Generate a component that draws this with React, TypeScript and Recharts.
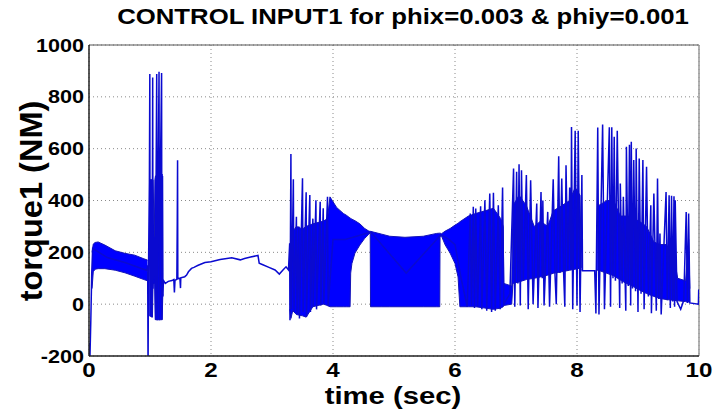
import React from "react";
import {
  Area,
  CartesianGrid,
  ComposedChart,
  Line,
  ReferenceLine,
  XAxis,
  YAxis,
} from "recharts";

const xTicks = [0, 2, 4, 6, 8, 10];
const yTicks = [-200, 0, 200, 400, 600, 800, 1000];

// torque1 trace [time, value]
const traceStart = [
  [0, -150], [0.012, -240], [0.03, -60], [0.045, 120], [0.06, 215],
  [0.3, 180], [0.6, 160], [0.95, 130], [0.962, 150], [0.968, -260], [0.975, 120],
];
const traceBurst1 = [
  [0.99, 470], [0.997, 888], [1.002, -45], [1.02, 480], [1.03, -50], [1.04, 470],
  [1.044, 875], [1.049, 60], [1.07, 260], [1.08, 90], [1.09, -60], [1.1, 490],
  [1.11, 888], [1.12, -62], [1.135, 495], [1.148, 897], [1.155, -62], [1.17, 500],
  [1.19, 892], [1.195, -60], [1.205, 495], [1.212, 30], [1.22, 92],
];
const traceRamp = [
  [1.25, 80], [1.3, 88], [1.36, 91], [1.39, 95], [1.4, 45], [1.41, 92], [1.44, 96],
  [1.447, 320], [1.452, 555], [1.456, 98], [1.49, 100], [1.5, 62], [1.505, 102],
  [1.57, 106], [1.6, 112], [1.63, 125], [1.68, 138], [1.72, 142], [1.79, 150],
  [1.9, 161], [2.0, 164], [2.15, 172], [2.34, 179], [2.48, 171], [2.55, 176],
  [2.65, 182], [2.77, 188], [2.79, 158], [2.85, 152], [2.95, 142], [3.05, 132],
  [3.12, 116], [3.18, 132], [3.23, 144], [3.27, 132],
];
const traceBurst2 = [
  [3.29, 235], [3.295, -62], [3.31, 579], [3.318, -20], [3.35, 482], [3.36, -30],
  [3.4, 337], [3.41, -40], [3.44, 300], [3.45, -55], [3.5, 486], [3.51, -30],
  [3.56, 432], [3.565, -49], [3.62, 421], [3.63, -30], [3.67, 330], [3.675, -10],
  [3.72, 401], [3.73, -20], [3.79, 395], [3.8, -5], [3.84, 370], [3.85, 3],
  [3.91, 414], [3.92, -8], [4.0, 250], [4.2, 250], [4.62, 278],
];
const traceBlock = [
  [5.2, 120], [5.77, 268], [5.9, 250], [6.0, 230], [6.1, 100],
];
const traceBurst3 = [
  [6.2, -10], [6.25, 350], [6.27, -5], [6.3, 376], [6.32, -15], [6.34, 369],
  [6.37, -10], [6.42, 378], [6.44, -20], [6.49, 401], [6.52, -25], [6.57, 427],
  [6.6, -30], [6.63, 430], [6.66, -25], [6.71, 382], [6.74, -20], [6.78, 450],
  [6.8, 0], [6.9, 40], [6.96, 523], [6.98, -10], [7.01, 511], [7.03, 80],
  [7.05, 540], [7.07, -5], [7.09, 517], [7.12, 90], [7.17, 498], [7.2, -20],
  [7.24, 478], [7.28, 0], [7.34, 388], [7.36, -15], [7.41, 433], [7.43, 100],
  [7.44, 400], [7.46, -5], [7.52, 356], [7.55, -10], [7.61, 482], [7.64, 110],
  [7.66, 0], [7.7, 571], [7.72, 120], [7.75, 485], [7.78, 125], [7.8, -10],
  [7.82, 536], [7.85, 130], [7.88, 450], [7.9, 135], [7.91, 684], [7.93, -20],
  [7.97, 669], [8.0, -5], [8.02, 669], [8.05, -30], [8.08, 498], [8.09, 129],
];
const traceBurst4 = [
  [8.29, 129], [8.31, -36], [8.34, 682], [8.36, -40], [8.42, 693], [8.45, -20],
  [8.53, 683], [8.55, -10], [8.57, 683], [8.59, 100], [8.61, 646], [8.63, 90],
  [8.66, 669], [8.7, -15], [8.71, 466], [8.74, 80], [8.76, 414], [8.8, -25],
  [8.81, 607], [8.84, 70], [8.86, 615], [8.88, -5], [8.89, 627], [8.91, 60],
  [8.93, 556], [8.96, 50], [8.97, 601], [9.0, -30], [9.02, 562], [9.05, 40],
  [9.08, 556], [9.1, -20], [9.14, 530], [9.17, 30], [9.21, 382], [9.22, -35],
  [9.26, 427], [9.3, -25], [9.32, 485], [9.34, 20], [9.36, 273], [9.38, -40],
  [9.46, 433], [9.48, 15], [9.51, 420], [9.53, -15], [9.55, 418], [9.57, 10],
  [9.59, 416], [9.6, -10], [9.61, 401], [9.64, 10], [9.7, -20], [9.75, 15],
  [9.79, 356], [9.81, 5], [9.83, 350], [9.85, 5], [9.99, 0], [9.995, 54], [10, 54],
];

// envelopes of the dense oscillation [time, low, high]
const bandStart = [
  [0.05, 60, 200], [0.07, 125, 232], [0.1, 135, 238], [0.15, 137, 240],
  [0.26, 137, 228], [0.43, 131, 206], [0.59, 121, 196], [0.75, 108, 189],
  [0.9, 95, 175], [0.96, 90, 170],
];
const bandBurst = [
  [0.99, -45, 480], [1.04, -50, 480], [1.05, 80, 480], [1.07, 80, 250],
  [1.08, 80, 480], [1.09, -60, 495], [1.2, -60, 500], [1.21, 40, 500],
];
const bandMiddle = [
  [3.29, -20, 200], [3.31, -55, 260], [3.34, -25, 280], [3.4, -40, 300],
  [3.5, -45, 290], [3.56, -50, 300], [3.67, -10, 310], [3.84, 0, 320],
  [3.91, -5, 330], [3.95, -10, 414], [4.06, -10, 373], [4.17, -10, 350],
  [4.22, -10, 343], [4.28, -10, 332], [4.29, 120, 331], [4.31, 157, 328],
  [4.36, 197, 322], [4.44, 228, 310], [4.52, 254, 292], [4.58, 268, 283],
  [4.61, 276, 280], [4.615, -10, 281], [4.8, -10, 270], [4.93, -10, 262],
  [5.18, -10, 258], [5.48, -10, 262], [5.7, -10, 273], [5.75, -10, 274],
  [5.755, 262, 274], [5.78, 262, 272], [5.84, 228, 282], [5.92, 197, 292],
  [6.0, 157, 305], [6.05, 105, 312], [6.08, -10, 318], [6.22, -10, 340],
  [6.34, -10, 350], [6.49, -15, 360], [6.63, -20, 370], [6.75, -15, 330],
  [6.79, -10, 300], [6.8, -5, 80], [6.93, 0, 70], [6.95, 80, 380],
  [7.05, 86, 420], [7.17, 95, 380], [7.3, 100, 300], [7.4, 105, 320],
  [7.52, 112, 300], [7.61, 119, 360], [7.75, 125, 380], [7.88, 131, 400],
  [7.97, 135, 450], [8.05, 139, 420], [8.07, 130, 140],
];
const bandEnd = [
  [8.33, 131, 300], [8.35, 131, 380], [8.49, 119, 400], [8.6, 110, 400],
  [8.71, 93, 340], [8.81, 80, 340], [8.93, 67, 330], [9.02, 55, 320],
  [9.14, 41, 300], [9.26, 30, 240], [9.36, 22, 230], [9.46, 18, 230],
  [9.58, 15, 200], [9.65, 13, 100], [9.78, 10, 90], [9.83, 8, 250], [9.85, 5, 60],
];

const trace = [
  ...traceStart, ...traceBurst1, ...traceRamp, ...traceBurst2,
  ...traceBlock, ...traceBurst3, ...traceBurst4,
];
const bands: [string, number[][]][] = [
  ["bandStart", bandStart],
  ["bandBurst", bandBurst],
  ["bandMiddle", bandMiddle],
  ["bandEnd", bandEnd],
];

const rowMap = new Map<number, any>();
const put = (t: number, key: string, val: any) => {
  const row = rowMap.get(t) ?? { t };
  row[key] = val;
  rowMap.set(t, row);
};
trace.forEach(([t, v]) => put(t, "torque", v));
bands.forEach(([name, rows]) => rows.forEach(([t, lo, hi]) => put(t, name, [lo, hi])));
const data = [...rowMap.values()].sort((a, b) => a.t - b.t);

const FONT = "'Liberation Sans', Arial, Helvetica, sans-serif";
const BLUE = "#0000ff";

const XTick = ({ x, y, payload }: any) => (
  <g transform={`translate(${x},${y})`}>
    <text x={0} y={21} textAnchor="middle" fontSize={21} fontWeight="bold" fontFamily={FONT} fill="#000" transform="scale(1.15,1)">
      {payload.value}
    </text>
  </g>
);

const YTick = ({ x, y, payload }: any) => (
  <g transform={`translate(${x - 5},${y})`}>
    <text x={0} y={6.5} textAnchor="end" fontSize={18} fontWeight="bold" fontFamily={FONT} fill="#000" transform="scale(1.2,1)">
      {payload.value}
    </text>
  </g>
);

const App: React.FC = () => {
  return (
    <div style={{ position: "absolute", left: 0, top: 0, width: 725, height: 414, background: "#fff", fontFamily: FONT }}>
      <div
        style={{
          position: "absolute",
          left: 403,
          top: 6,
          transform: "translateX(-50%) scaleX(1.17)",
          fontSize: 22,
          lineHeight: "22px",
          fontWeight: "bold",
          whiteSpace: "nowrap",
          color: "#000",
        }}
      >
        CONTROL INPUT1 for phix=0.003 &amp; phiy=0.001
      </div>
      <div
        style={{
          position: "absolute",
          left: 31,
          top: 201,
          transform: "translate(-50%, -50%) rotate(-90deg) scaleX(1.05)",
          fontSize: 31,
          lineHeight: "31px",
          fontWeight: "bold",
          whiteSpace: "nowrap",
          color: "#000",
        }}
      >
        torque1 (NM)
      </div>
      <div
        style={{
          position: "absolute",
          left: 393,
          top: 384,
          transform: "translateX(-50%) scaleX(1.22)",
          fontSize: 24,
          lineHeight: "24px",
          fontWeight: "bold",
          whiteSpace: "nowrap",
          color: "#000",
        }}
      >
        time (sec)
      </div>
      <ComposedChart
        width={725}
        height={414}
        data={data}
        margin={{ top: 45, right: 26, bottom: 0, left: 0 }}
      >
        <CartesianGrid stroke="#8a8a8a" strokeDasharray="1 3" />
        <XAxis
          dataKey="t"
          type="number"
          domain={[0, 10]}
          ticks={xTicks}
          allowDataOverflow
          height={58}
          tickLine={false}
          tickSize={0}
          tickMargin={0}
          axisLine={{ stroke: "#222", strokeWidth: 1.5 }}
          tick={<XTick />}
          interval={0}
        />
        <YAxis
          type="number"
          domain={[-200, 1000]}
          ticks={yTicks}
          allowDataOverflow
          width={89}
          tickLine={false}
          tickSize={0}
          tickMargin={0}
          axisLine={{ stroke: "#222", strokeWidth: 1.5 }}
          tick={<YTick />}
          interval={0}
        />
        <ReferenceLine y={1000} stroke="#555" strokeWidth={1} />
        <ReferenceLine x={10} stroke="#999" strokeWidth={1.5} />
        {bands.map(([name]) => (
          <Area
            key={name}
            dataKey={name}
            type="linear"
            connectNulls
            stroke="#1414b8"
            strokeWidth={1}
            fill={BLUE}
            fillOpacity={1}
            dot={false}
            activeDot={false}
            isAnimationActive={false}
          />
        ))}
        <Line
          dataKey="torque"
          type="linear"
          connectNulls
          stroke="#0a0ad0"
          strokeWidth={1.5}
          dot={false}
          activeDot={false}
          isAnimationActive={false}
        />
      </ComposedChart>
    </div>
  );
};

export default App;
